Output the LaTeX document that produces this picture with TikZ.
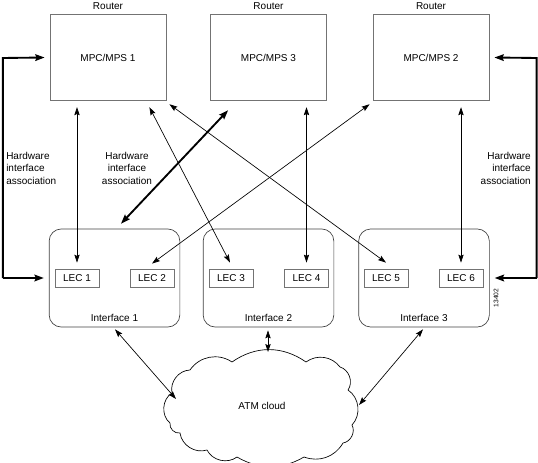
\documentclass[tikz,border=0pt]{standalone}
\usepackage{fontspec}
\setmainfont{Liberation Sans}
\usetikzlibrary{arrows.meta,calc}
\begin{document}
\begin{tikzpicture}[x=0.75pt,y=-0.75pt,
  every node/.style={font=\fontsize{7.5}{9.4}\selectfont, inner sep=0pt},
  router/.style={draw=black!55, line width=0.6pt, minimum width=87pt, minimum height=65pt},
  iface/.style={draw=black!75, line width=0.5pt, rounded corners=9pt, minimum width=98pt, minimum height=73.5pt},
  lec/.style={draw=black!55, line width=0.6pt, minimum width=33pt, minimum height=13.5pt},
  link/.style={line width=0.5pt, {Stealth[length=6pt,width=4pt,inset=1pt]}-{Stealth[length=6pt,width=4pt,inset=1pt]}},
  boldlink/.style={line width=1.4pt, {Stealth[length=7pt,width=5pt,inset=1pt]}-{Stealth[length=7pt,width=5pt,inset=1pt]}},
  bracket/.style={line width=1.4pt, -{Stealth[length=7pt,width=5pt,inset=1pt]}},
  hw/.style={align=left}
]
\useasboundingbox (0,0) rectangle (538,463);

% routers
\node[router] (mps1) at (108,57.5) {MPC/MPS 1};
\node[router] (mps3) at (268.5,57.5) {MPC/MPS 3};
\node[router] (mps2) at (431,57.5) {MPC/MPS 2};
\node (r1) at (108,6) {Router};
\node (r3) at (268.5,6) {Router};
\node (r2) at (431,6) {Router};

% interfaces
\node[iface] (if1) at (114.5,278) {};
\node[iface] (if2) at (268.5,278) {};
\node[iface] (if3) at (424,278) {};
\node (if1l) at (114.5,318) {Interface 1};
\node (if2l) at (268.5,318) {Interface 2};
\node (if3l) at (424,318) {Interface 3};

% LECs
\node[lec] (lec1) at (77,278) {LEC 1};
\node[lec] (lec2) at (152,278) {LEC 2};
\node[lec] (lec3) at (231,278) {LEC 3};
\node[lec] (lec4) at (306.5,278) {LEC 4};
\node[lec] (lec5) at (386,278) {LEC 5};
\node[lec] (lec6) at (461,278) {LEC 6};

% cloud
\draw[line width=0.5pt] (170,423) to[bend left=55] (172,393)
  to[bend left=50] (190,370) to[bend left=45] (232,362)
  to[bend left=35] (306,362) to[bend left=45] (340,367)
  to[bend left=55] (348,390) to[bend left=50] (352,425)
  to[bend left=55] (343,443) to[bend left=40] (304,457)
  to[bend left=30] (237,457) to[bend left=50] (207,450)
  to[bend left=50] (180,433) to[bend left=55] cycle;
\node (atm) at (262,406) {ATM cloud};
\coordinate (cl1) at (176,399);
\coordinate (cl2) at (268,352);
\coordinate (cl3) at (359,405);

% LEC to router links
\draw[link] ($(lec1.north)+(0,-6)$) -- ($(mps1.south)+(-31,6)$);
\draw[link] ($(lec3.north)+(-1,-6)$) -- ($(mps1.south east)+(-17,6)$);
\draw[link] ($(lec5.north)+(0,-6)$) -- ($(mps1.south east)+(3,3)$);
\draw[link] ($(lec2.north)+(0,-5)$) -- ($(mps2.south west)+(-3,3)$);
\draw[link] ($(lec4.north)+(0,-6)$) -- ($(mps3.south)+(38,6)$);
\draw[link] ($(lec6.north)+(0,-6)$) -- ($(mps2.south)+(30,6)$);
\draw[boldlink] ($(if1.north)+(6.5,-5)$) -- ($(mps3.south west)+(18,9)$);

% hardware association brackets
\draw[bracket] ($(if1.west)+(-46,0)$) -- ++(0,-220) -- ($(mps1.west)+(-5,0)$);
\draw[bracket] ($(if1.west)+(-46,0)$) -- ($(if1.west)+(-5,0)$);
\draw[bracket] ($(if3.east)+(47,0)$) -- ++(0,-220) -- ($(mps2.east)+(5,0)$);
\draw[bracket] ($(if3.east)+(47,0)$) -- ($(if3.east)+(5,0)$);

\node[hw, anchor=west] (hw1) at (6,168) {Hardware\\interface\\association};
\node[align=center] (hw2) at (127,168) {Hardware\\interface\\association};
\node[align=right, anchor=east] (hw3) at (531,168) {Hardware\\interface\\association};

% interface to cloud
\draw[link] ($(if1.south)+(0.5,2)$) -- (cl1);
\draw[link] ($(if2.south)+(-0.5,3)$) -- (cl2);
\draw[link] ($(if3.south)+(-1,2)$) -- (cl3);

\node[rotate=90, font=\fontsize{5}{6}\selectfont] (fig) at (496,298) {13402};
\end{tikzpicture}
\end{document}
